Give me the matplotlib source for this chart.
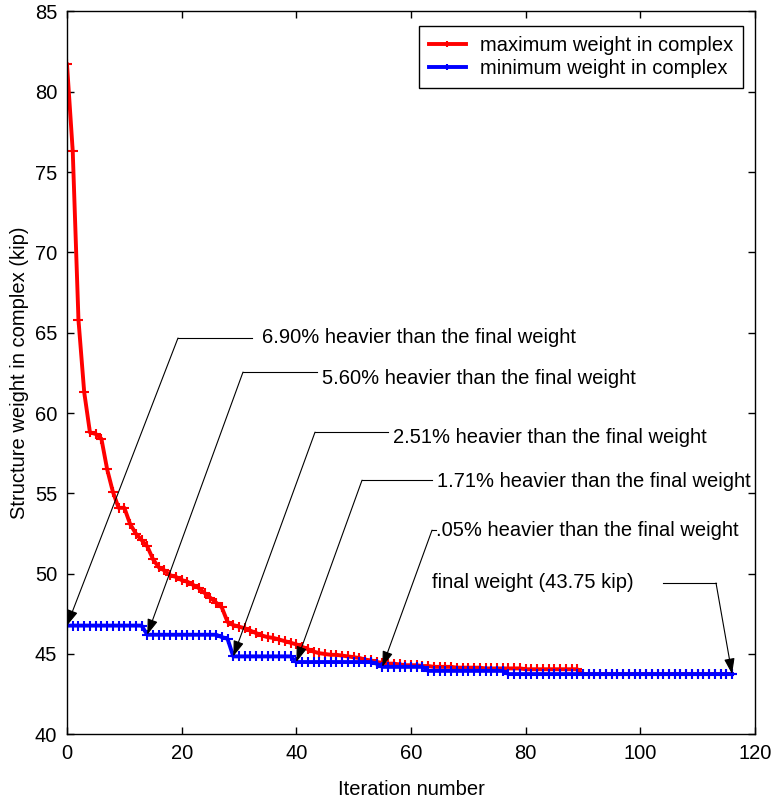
import numpy as np
import matplotlib
matplotlib.use("Agg")
import matplotlib.pyplot as plt

plt.rcParams['font.family'] = ['Liberation Sans', 'DejaVu Sans']

# iteration numbers 0..116
iterations = list(range(117))

max_weight = [
    81.7, 76.3, 65.8, 61.3, 58.8, 58.7, 58.4, 56.5, 55.1, 54.1,
    54.1, 53.1, 52.5, 52.1, 51.7, 50.9, 50.4, 50.2, 49.9, 49.8,
    49.6, 49.5, 49.3, 49.1, 48.8, 48.5, 48.2, 47.9, 47.0, 46.8,
    46.7, 46.6, 46.45, 46.3, 46.15, 46.05, 46.0, 45.9, 45.8, 45.7,
    45.6, 45.45, 45.3, 45.15, 45.05, 45.0, 44.95, 44.95, 44.9, 44.85,
    44.8, 44.75, 44.65, 44.6, 44.5, 44.45, 44.4, 44.4, 44.35, 44.3,
    44.3, 44.3, 44.25, 44.25, 44.2, 44.2, 44.2, 44.2, 44.15, 44.15,
    44.15, 44.15, 44.15, 44.1, 44.1, 44.1, 44.1, 44.1, 44.1, 44.1,
    44.05, 44.05, 44.05, 44.05, 44.05, 44.05, 44.05, 44.05, 44.05, 44.05,
    43.75, 43.75, 43.75, 43.75, 43.75, 43.75, 43.75, 43.75, 43.75, 43.75,
    43.75, 43.75, 43.75, 43.75, 43.75, 43.75, 43.75, 43.75, 43.75, 43.75,
    43.75, 43.75, 43.75, 43.75, 43.75, 43.75, 43.75,
]

min_weight = [
    46.77, 46.77, 46.77, 46.77, 46.77, 46.77, 46.77, 46.77, 46.77, 46.77,
    46.77, 46.77, 46.77, 46.77, 46.2, 46.2, 46.2, 46.2, 46.2, 46.2,
    46.2, 46.2, 46.2, 46.2, 46.2, 46.2, 46.2, 46.05, 45.95, 44.85,
    44.85, 44.85, 44.85, 44.85, 44.85, 44.85, 44.85, 44.85, 44.85, 44.85,
    44.5, 44.5, 44.5, 44.5, 44.5, 44.5, 44.5, 44.5, 44.5, 44.5,
    44.5, 44.5, 44.5, 44.5, 44.4, 44.2, 44.2, 44.2, 44.2, 44.2,
    44.2, 44.2, 44.2, 43.95, 43.95, 43.95, 43.95, 43.95, 43.95, 43.95,
    43.95, 43.95, 43.95, 43.95, 43.95, 43.95, 43.95, 43.75, 43.75, 43.75,
    43.75, 43.75, 43.75, 43.75, 43.75, 43.75, 43.75, 43.75, 43.75, 43.75,
    43.75, 43.75, 43.75, 43.75, 43.75, 43.75, 43.75, 43.75, 43.75, 43.75,
    43.75, 43.75, 43.75, 43.75, 43.75, 43.75, 43.75, 43.75, 43.75, 43.75,
    43.75, 43.75, 43.75, 43.75, 43.75, 43.75, 43.75,
]

labels = [
    "6.90% heavier than the final weight",
    "5.60% heavier than the final weight",
    "2.51% heavier than the final weight",
    "1.71% heavier than the final weight",
    ".05% heavier than the final weight",
    "final weight (43.75 kip)",
]
# iteration the arrow points at
target_iter = [0, 14, 29, 40, 55, 116]

# layout of annotation: text x, text y, bend x, bend y, line x start, line x end
ann_layout = [
    (34.0, 64.72, 19.36, 64.67, 19.36, 32.27),
    (44.5, 62.17, 30.70, 62.55, 30.70, 43.61),
    (56.9, 58.50, 43.26, 58.81, 43.26, 55.99),
    (64.5, 55.76, 51.46, 55.82, 51.46, 63.67),
    (64.4, 52.71, 63.67, 52.71, 63.67, 64.36),
    (63.7, 49.48, 113.2, 49.42, 103.96, 113.2),
]

fs = 14.5
fig = plt.figure(figsize=(7.73, 8.05), dpi=100)
ax = fig.add_axes([67 / 773, 0.0878, 688 / 773, 0.898])

ax.plot(iterations, max_weight, color='red', lw=2.8, marker='+', ms=7, mew=1.5,
        label='maximum weight in complex')
ax.plot(iterations, min_weight, color='blue', lw=2.8, marker='+', ms=7, mew=1.5,
        label='minimum weight in complex')

for lab, it, (tx, ty, bx, by, lx0, lx1) in zip(labels, target_iter, ann_layout):
    hy = min_weight[iterations.index(it)]
    ax.plot([lx0, lx1], [by, by], color='k', lw=0.8)
    ax.annotate('', xy=(it, hy), xytext=(bx, by),
                arrowprops=dict(arrowstyle='-|>,head_length=0.95,head_width=0.32',
                                color='k', lw=0.8, mutation_scale=10,
                                shrinkA=0, shrinkB=0))
    ax.text(tx, ty, lab, fontsize=fs, va='center', ha='left')

ax.set_xlim(0, 120)
ax.set_ylim(40, 85)
ax.set_xticks(np.arange(0, 121, 20))
ax.set_yticks(np.arange(40, 86, 5))
ax.tick_params(direction='in', top=True, right=True, length=5, width=1,
               labelsize=fs, pad=7)
for s in ax.spines.values():
    s.set_linewidth(1)

ax.set_xlabel('Iteration number', fontsize=fs, labelpad=12)
ax.set_ylabel('Structure weight in complex (kip)', fontsize=fs, labelpad=4)

leg = ax.legend(loc='upper right', bbox_to_anchor=(0.9826, 0.9795), borderaxespad=0,
                fontsize=fs, fancybox=False, edgecolor='k', framealpha=1,
                handlelength=1.8, handletextpad=0.7, borderpad=0.5,
                labelspacing=0.2, markerscale=0.7)
leg.get_frame().set_linewidth(1)

fig.savefig('out.png', dpi=100)
